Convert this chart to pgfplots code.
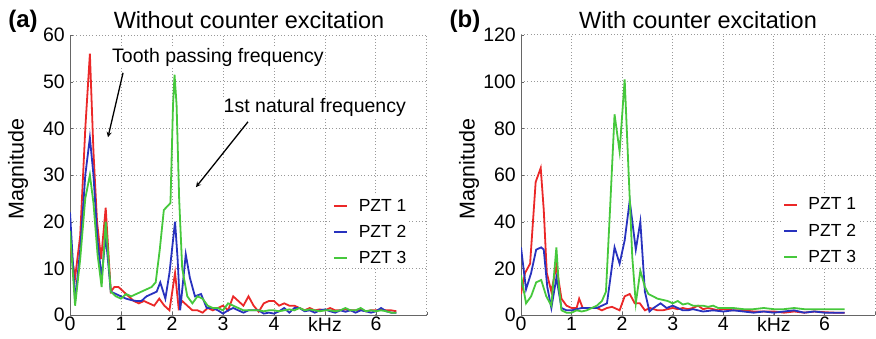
\documentclass[border=0pt]{standalone}
\usepackage{pgfplots}
\pgfplotsset{compat=1.18}
\usepackage{fontspec}
\setmainfont{Liberation Sans}
\definecolor{pzta}{RGB}{235,40,40}
\definecolor{pztb}{RGB}{40,50,190}
\definecolor{pztc}{RGB}{70,200,60}
\newcommand\fs{\fontsize{19.5}{22}\selectfont}
\newcommand\fl{\fontsize{17.5}{20}\selectfont}
\pgfplotsset{
  myax/.style={
    scale only axis, height=280pt, xmin=0, xmax=7,
    axis lines*=left, axis line style={draw=black!60, line width=1pt},
    xtick={0,1,2,3,4,5,6,7}, xticklabels={0,1,2,3,4,kHz,6,},
    tick align=inside, major tick length=3pt, tick style={black!60},
    grid=major, major grid style={black!40, line width=1pt, dash pattern=on 1pt off 2.2pt},
    /pgf/number format/assume math mode=true,
    tick label style={font=\fs},
    xticklabel style={inner sep=2pt},
    yticklabel style={inner sep=5pt},
    legend cell align=left,
    legend image code/.code={\draw[#1, line width=2pt] (0pt,0pt) -- (13pt,0pt);},
    legend style={draw=none, fill=white, font=\fl, inner sep=2pt, row sep=10.5pt, nodes={inner sep=1pt}},
  }
}
\begin{document}
\begin{tikzpicture}
\useasboundingbox (0,0) rectangle (876pt,338pt);
% ---------------- panel (a)
\begin{axis}[myax, at={(70pt,23pt)}, anchor=south west, width=357pt,
  ymin=0, ymax=60, ytick={0,10,...,60},
  legend style={at={(0.73,0.425)}, anchor=north west, /tikz/every odd column/.append style={column sep=10pt}}]
\addplot[pzta, line width=1.8pt] coordinates {(0,15) (0.1,8) (0.2,17) (0.3,40) (0.39,56) (0.46,35) (0.53,20) (0.61,12) (0.7,23) (0.8,5) (0.87,6) (0.95,6) (1.05,5) (1.15,4) (1.25,3) (1.35,2.5) (1.45,3) (1.55,2.5) (1.65,2) (1.75,3.5) (1.85,2) (1.95,1) (2.06,9) (2.13,1.5) (2.2,3) (2.3,2) (2.4,1) (2.5,1) (2.6,0.5) (2.7,1.5) (2.8,1) (2.9,1.5) (3.0,2) (3.1,1) (3.2,4) (3.3,3) (3.4,2) (3.5,4) (3.6,2) (3.7,0.7) (3.8,2.5) (3.9,3) (4.0,3) (4.1,2) (4.2,2.5) (4.3,2) (4.4,2) (4.5,1.5) (4.6,1) (4.7,1.5) (4.8,1) (4.9,1.2) (5.0,1) (5.1,1.5) (5.2,1) (5.3,1) (5.4,1.2) (5.5,1) (5.6,1) (5.7,1.2) (5.8,0.8) (5.9,1) (6.0,1) (6.1,1.2) (6.2,1) (6.3,1) (6.4,0.8)};
\addplot[pztb, line width=1.8pt] coordinates {(0,22) (0.1,3) (0.2,14) (0.3,30) (0.39,38) (0.46,30) (0.54,16) (0.62,8) (0.7,17) (0.8,5) (0.9,4.5) (1.0,4) (1.1,3.5) (1.2,3.2) (1.3,3) (1.4,3) (1.5,4) (1.6,4.5) (1.7,5) (1.77,7) (1.87,3.5) (1.95,9) (2.06,20) (2.11,12) (2.16,1) (2.27,13) (2.35,8) (2.45,4) (2.57,4.5) (2.68,1.5) (2.8,1.5) (2.9,1) (3.0,0.3) (3.1,1) (3.2,1.5) (3.3,1) (3.4,0.5) (3.5,1) (3.6,1) (3.7,1) (3.8,0.3) (3.9,0.5) (4.0,0.3) (4.1,0.8) (4.2,1.5) (4.3,0.5) (4.4,1.5) (4.5,1.5) (4.6,0.8) (4.7,1) (4.8,0.5) (4.9,1) (5.0,1.2) (5.1,0.8) (5.2,0.5) (5.3,1) (5.4,0.7) (5.5,1) (5.6,0.5) (5.7,1) (5.8,0.8) (5.9,0.5) (6.0,0.8) (6.1,1.5) (6.2,0.8) (6.3,0.5) (6.4,0.5)};
\addplot[pztc, line width=1.8pt] coordinates {(0,18) (0.1,2) (0.2,12) (0.3,25) (0.39,30) (0.46,24) (0.54,13) (0.62,6) (0.7,20) (0.8,5) (0.9,4) (1.0,3.5) (1.1,4.5) (1.2,4) (1.3,4.5) (1.4,5) (1.5,5.5) (1.6,6) (1.68,7) (1.76,14) (1.84,22.5) (1.97,24) (2.02,45) (2.05,51.5) (2.09,45) (2.14,25) (2.2,10) (2.3,4) (2.4,2.5) (2.5,4) (2.6,3.5) (2.7,2) (2.8,1.5) (2.9,1.5) (3.0,1) (3.1,2.5) (3.2,2) (3.3,1.5) (3.4,1) (3.5,1) (3.6,1) (3.7,1) (3.8,0.8) (3.9,1) (4.0,1) (4.1,0.8) (4.2,1) (4.3,1.2) (4.4,1) (4.5,1.5) (4.6,1) (4.7,1.2) (4.8,1) (4.9,0.8) (5.0,1) (5.1,1) (5.2,0.8) (5.3,1) (5.4,1.5) (5.5,1) (5.6,1) (5.7,1.5) (5.8,0.8) (5.9,1) (6.0,0.8) (6.1,1) (6.2,0.8) (6.3,0.5) (6.4,0.5)};
\legend{PZT 1, PZT 2, PZT 3}
\draw[-stealth, line width=1.3pt] (axis cs:1.04,51.9) -- (axis cs:0.745,38.1);
\draw[-stealth, line width=1.3pt] (axis cs:3.49,41.4) -- (axis cs:2.47,27.4);
\node[font=\fs, fill=white, inner sep=1pt] at (axis cs:2.9,55.1) {Tooth passing frequency};
\node[font=\fs, fill=white, inner sep=1pt] at (axis cs:4.8,44.4) {1st natural frequency};
\end{axis}
\node[font=\fontsize{24}{28}\selectfont\bfseries] at (23pt,317pt) {(a)};
\node[font=\fontsize{23.5}{27}\selectfont] at (249pt,318pt) {Without counter excitation};
\node[font=\fontsize{21.5}{25}\selectfont, rotate=90] at (18pt,169pt) {Magnitude};
% ---------------- panel (b)
\begin{axis}[myax, at={(521pt,23pt)}, anchor=south west, width=354pt,
  ymin=0, ymax=120, ytick={0,20,...,120},
  legend style={at={(0.735,0.43)}, anchor=north west, /tikz/every odd column/.append style={column sep=9pt}}]
\addplot[pzta, line width=1.8pt] coordinates {(0,9) (0.08,18) (0.18,22) (0.29,57) (0.39,63) (0.45,45) (0.51,18) (0.6,10) (0.7,21) (0.8,7) (0.9,4) (1.0,3) (1.1,3) (1.15,7) (1.22,3) (1.3,3) (1.4,3) (1.5,3) (1.6,2) (1.7,3) (1.8,3.5) (1.95,2) (2.05,8) (2.15,9) (2.25,5) (2.35,5) (2.45,2) (2.55,3) (2.7,2) (2.8,2) (2.9,2.5) (3.0,3) (3.1,2.5) (3.2,3) (3.3,2.5) (3.4,3) (3.5,4) (3.6,2.5) (3.7,3) (3.8,2.5) (3.9,2) (4.0,2.5) (4.2,2) (4.4,2) (4.6,1.5) (4.8,1.5) (5.0,1.5) (5.2,1) (5.4,1.5) (5.6,1) (5.8,1.5) (6.0,1.2) (6.2,1) (6.4,1)};
\addplot[pztb, line width=1.8pt] coordinates {(0,29) (0.1,11) (0.2,18) (0.3,28) (0.4,29) (0.45,28) (0.52,12) (0.6,3) (0.7,16) (0.8,3) (0.9,2) (1.0,2) (1.1,2.5) (1.2,3) (1.3,3) (1.4,3) (1.5,3) (1.6,4) (1.7,5) (1.85,29) (1.95,22) (2.05,32) (2.15,49) (2.27,28) (2.36,40) (2.45,10) (2.54,1.5) (2.62,3) (2.76,5) (2.88,3) (3.0,4) (3.1,3) (3.2,2) (3.3,2) (3.4,2.5) (3.5,2) (3.6,1.5) (3.8,2) (4.0,1.5) (4.2,2) (4.4,1.5) (4.6,1) (4.8,1.5) (5.0,1) (5.2,1.5) (5.4,2) (5.6,1) (5.8,1.5) (6.0,1) (6.2,1) (6.4,1)};
\addplot[pztc, line width=1.8pt] coordinates {(0,17) (0.1,5) (0.2,8) (0.3,14) (0.4,15) (0.5,8) (0.6,4) (0.7,29) (0.75,12) (0.8,2) (0.9,1) (1.0,1) (1.1,2) (1.2,1.5) (1.3,2) (1.4,3) (1.5,4) (1.6,6) (1.68,10) (1.76,45) (1.85,86) (1.95,70) (2.05,101) (2.13,60) (2.2,25) (2.27,5) (2.36,19) (2.45,12) (2.52,9) (2.7,7) (2.9,6) (3.0,5) (3.1,6) (3.2,4.5) (3.3,5) (3.4,4) (3.5,4) (3.6,4) (3.7,3.5) (3.8,4) (3.9,3) (4.0,3) (4.2,3) (4.4,2.5) (4.6,2.5) (4.8,3) (5.0,2.5) (5.2,2.5) (5.4,3) (5.6,2.5) (5.8,2.5) (6.0,2.5) (6.2,2.5) (6.4,2.5)};
\legend{PZT 1, PZT 2, PZT 3}
\end{axis}
\node[font=\fontsize{24}{28}\selectfont\bfseries] at (465pt,317pt) {(b)};
\node[font=\fontsize{23.5}{27}\selectfont] at (698pt,318pt) {With counter excitation};
\node[font=\fontsize{21.5}{25}\selectfont, rotate=90] at (469pt,169pt) {Magnitude};
\end{tikzpicture}
\end{document}
